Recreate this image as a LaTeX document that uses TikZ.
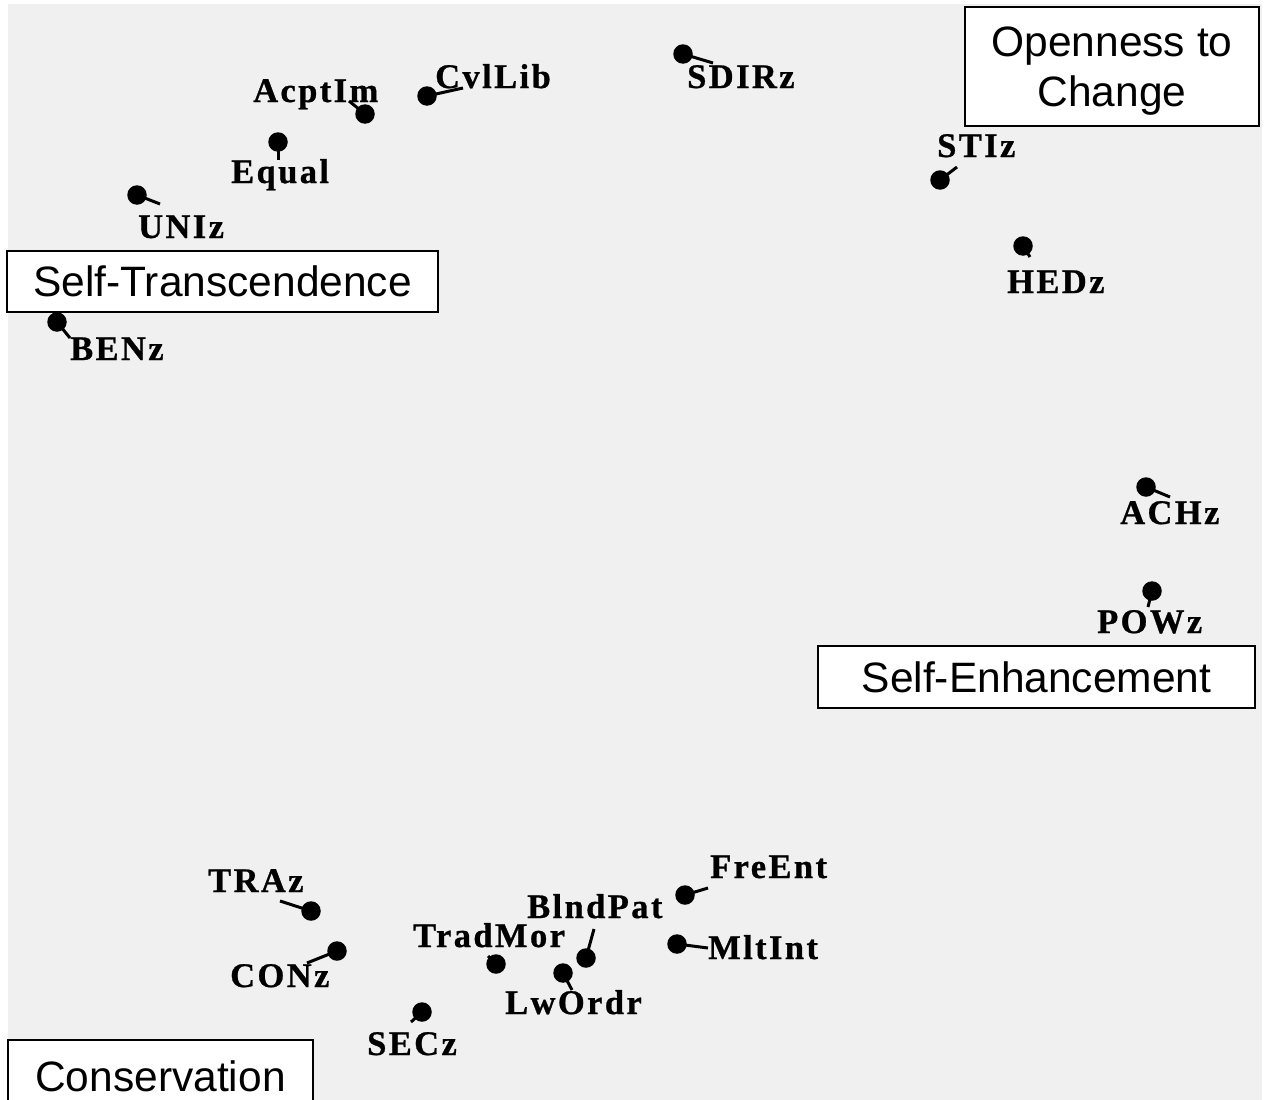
\documentclass[tikz,border=0pt]{standalone}
\usepackage{fontspec}
\newfontfamily\labfont[LetterSpace=7,FakeBold=0.8]{Liberation Serif}
\newfontfamily\boxfont{Liberation Sans}
\definecolor{bg}{HTML}{F0F0F0}
\begin{document}
\begin{tikzpicture}[x=1pt,y=-1pt,
  dot/.style={circle, fill=black, inner sep=0pt, minimum size=19.5pt},
  stub/.style={line width=3pt},
  lab/.style={inner sep=0pt, anchor=base west, font=\labfont\bfseries\fontsize{34.5}{38}\selectfont},
  region/.style={draw=black, line width=1.5pt, fill=white, inner sep=0pt,
    font=\boxfont\fontsize{42.5}{50}\selectfont, text height=30.5pt, text depth=0pt}
]
\useasboundingbox (0,0) rectangle (1264,1100);
\clip (0,0) rectangle (1264,1100);
\fill[bg] (8,4) rectangle (1262,1100);

% region boxes
\node[region, minimum width=431pt, minimum height=61pt] (st) at (222.5,281.5) {Self-Transcendence};
\node[region, minimum width=437pt, minimum height=62pt] (se) at (1036.5,677) {Self-Enhancement};
\node[region, minimum width=305pt, minimum height=72pt] (cons) at (160.5,1076) {Conservation};
\node[region, align=center, text height=80.5pt, minimum width=294pt, minimum height=119pt] (oc) at (1112,66.5) {Openness to\\Change};

% points: name/text/dot x/dot y/stub x/stub y/label x/label baseline
\foreach \n/\t/\dx/\dy/\sx/\sy/\lx/\ly in {
  acptim/AcptIm/365/114/349/101/253/102,
  equal/Equal/278/142/278/160/231/183,
  uniz/UNIz/137/195/160/204/138/238,
  cvllib/CvlLib/427/96/463/88/435/88,
  sdirz/SDIRz/683/54/713/63/687/88,
  stiz/STIz/940/180/957/167/937/157,
  hedz/HEDz/1023/246/1030/257/1007/293,
  benz/BENz/57/322/70/338/70/360,
  achz/ACHz/1146/487/1170/497/1120/524,
  powz/POWz/1152/591/1148/607/1097/633,
  traz/TRAz/311/911/280/901/208/892,
  conz/CONz/337/951/307/963/230/987,
  secz/SECz/422/1012/411/1022/367/1055,
  tradmor/TradMor/496/964/488/956/413/947,
  lwordr/LwOrdr/563/973/572/990/505/1014,
  blndpat/BlndPat/586/958/594/929/527/918,
  freent/FreEnt/685/895/708/888/710/878,
  mltint/MltInt/677/944/708/948/708/959} {
  \node[dot] (\n-d) at (\dx,\dy) {};
  \coordinate (\n-e) at (\sx,\sy);
  \draw[stub] (\n-d.center) -- (\n-e);
  \node[lab] (\n-l) at (\lx,\ly) {\t};
}
\end{tikzpicture}
\end{document}
